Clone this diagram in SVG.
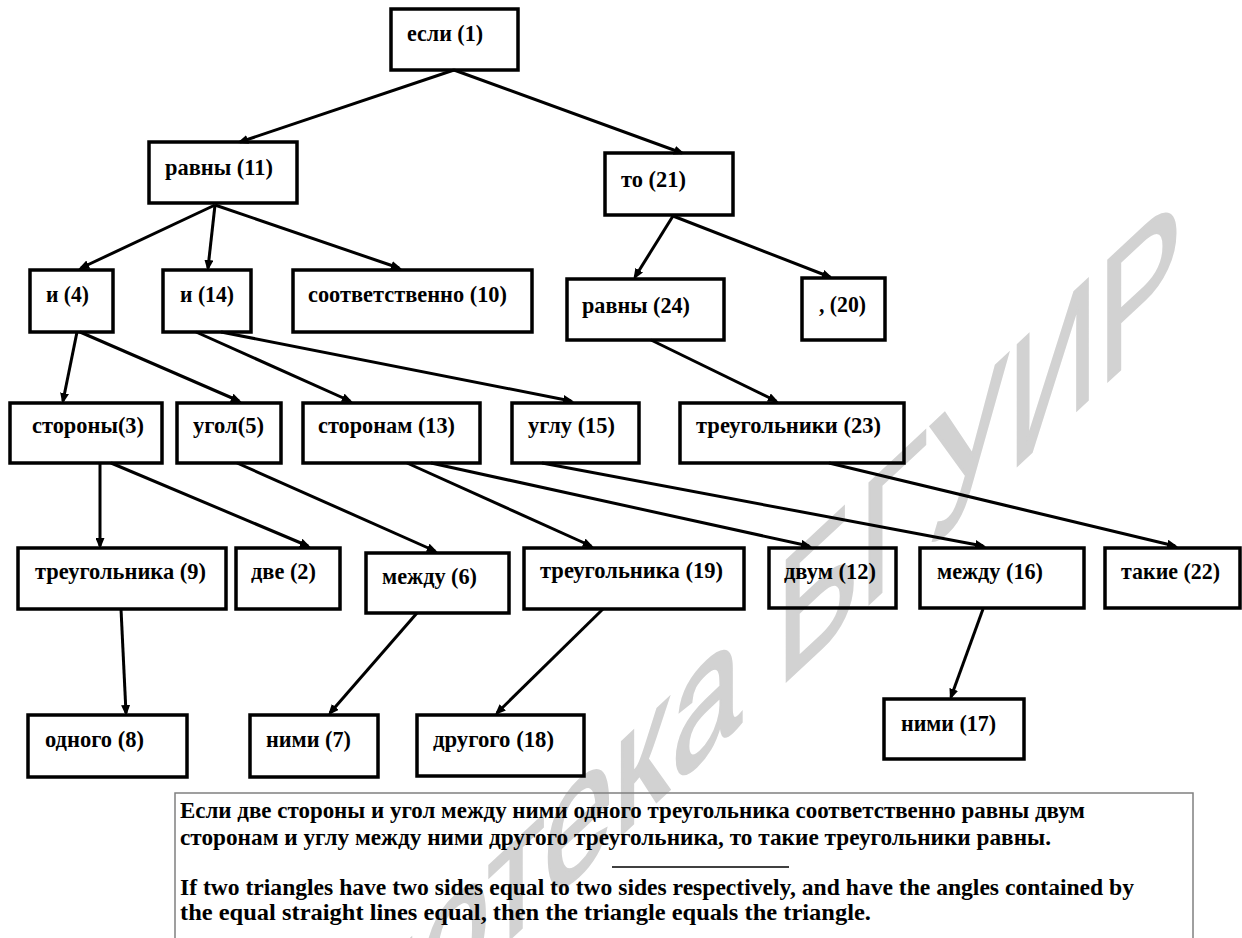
<svg xmlns="http://www.w3.org/2000/svg" width="1242" height="938" viewBox="0 0 1242 938">
<style>
.box{fill:none;stroke:#000;stroke-width:3.5}
.lbl{font-family:"Liberation Serif","Times New Roman",serif;font-weight:bold;font-size:24px;fill:#000}
.txt{font-family:"Liberation Serif","Times New Roman",serif;font-weight:bold;font-size:23px;fill:#000}
.edge{stroke:#000;stroke-width:3;fill:none;marker-end:url(#ah)}
.wm{font-family:"Liberation Sans",Arial,sans-serif;font-size:175px;fill:#d2d2d2;stroke:#d2d2d2;stroke-width:3}
</style>
<defs>
<marker id="ah" markerWidth="11" markerHeight="9" refX="8" refY="4.5" orient="auto" markerUnits="userSpaceOnUse">
<path d="M0,0 L11,4.5 L0,9 z" fill="#000"/>
</marker>
</defs>
<rect width="1242" height="938" fill="#fff"/>
<text class="wm" transform="translate(1182,312) skewY(-43) scale(0.72,1)" text-anchor="end">Библиотека БГУИР</text>

<g id="connectors">
<line class="edge" x1="454" y1="70" x2="240" y2="142"/>
<line class="edge" x1="454" y1="70" x2="682" y2="153"/>
<line class="edge" x1="215" y1="205" x2="81" y2="268"/>
<line class="edge" x1="215" y1="205" x2="208" y2="268"/>
<line class="edge" x1="215" y1="205" x2="399" y2="268"/>
<line class="edge" x1="673" y1="216" x2="635" y2="277"/>
<line class="edge" x1="673" y1="216" x2="830" y2="277"/>
<line class="edge" x1="77" y1="332" x2="63" y2="401"/>
<line class="edge" x1="80" y1="332" x2="239" y2="401"/>
<line class="edge" x1="196" y1="332" x2="350" y2="401"/>
<line class="edge" x1="221" y1="332" x2="571" y2="401"/>
<line class="edge" x1="651" y1="340" x2="776" y2="401"/>
<line class="edge" x1="100" y1="463" x2="100" y2="546"/>
<line class="edge" x1="111" y1="463" x2="308" y2="546"/>
<line class="edge" x1="237" y1="463" x2="435" y2="551"/>
<line class="edge" x1="407" y1="463" x2="591" y2="546"/>
<line class="edge" x1="431" y1="463" x2="809" y2="546"/>
<line class="edge" x1="542" y1="463" x2="983" y2="546"/>
<line class="edge" x1="829" y1="463" x2="1175" y2="546"/>
<line class="edge" x1="121" y1="609" x2="126" y2="713"/>
<line class="edge" x1="417" y1="613" x2="330" y2="713"/>
<line class="edge" x1="603" y1="609" x2="497" y2="713"/>
<line class="edge" x1="983" y1="609" x2="951" y2="697"/>
</g>

<g id="n1"><rect class="box" x="391" y="9" width="127" height="61"/><text class="lbl" x="407" y="41" textLength="76" lengthAdjust="spacingAndGlyphs">если (1)</text></g>
<g id="n11"><rect class="box" x="149" y="142" width="148" height="61"/><text class="lbl" x="165" y="175" textLength="108" lengthAdjust="spacingAndGlyphs">равны (11)</text></g>
<g id="n21"><rect class="box" x="605" y="153" width="128" height="62"/><text class="lbl" x="621" y="187" textLength="65" lengthAdjust="spacingAndGlyphs">то (21)</text></g>
<g id="n4"><rect class="box" x="30" y="270" width="83" height="62"/><text class="lbl" x="46" y="302" textLength="43" lengthAdjust="spacingAndGlyphs">и (4)</text></g>
<g id="n14"><rect class="box" x="163" y="270" width="88" height="62"/><text class="lbl" x="180" y="302" textLength="54" lengthAdjust="spacingAndGlyphs">и (14)</text></g>
<g id="n10"><rect class="box" x="293" y="270" width="239" height="62"/><text class="lbl" x="308" y="302" textLength="199" lengthAdjust="spacingAndGlyphs">соответственно (10)</text></g>
<g id="n24"><rect class="box" x="567" y="279" width="157" height="61"/><text class="lbl" x="582" y="313" textLength="108" lengthAdjust="spacingAndGlyphs">равны (24)</text></g>
<g id="n20"><rect class="box" x="802" y="278" width="83" height="62"/><text class="lbl" x="819" y="312" textLength="47" lengthAdjust="spacingAndGlyphs">, (20)</text></g>
<g id="n3"><rect class="box" x="10" y="403" width="152" height="60"/><text class="lbl" x="32" y="433" textLength="112" lengthAdjust="spacingAndGlyphs">стороны(3)</text></g>
<g id="n5"><rect class="box" x="177" y="403" width="104" height="60"/><text class="lbl" x="193" y="433" textLength="71" lengthAdjust="spacingAndGlyphs">угол(5)</text></g>
<g id="n13"><rect class="box" x="303" y="403" width="177" height="60"/><text class="lbl" x="318" y="433" textLength="137" lengthAdjust="spacingAndGlyphs">сторонам (13)</text></g>
<g id="n15"><rect class="box" x="512" y="403" width="127" height="60"/><text class="lbl" x="528" y="433" textLength="87" lengthAdjust="spacingAndGlyphs">углу (15)</text></g>
<g id="n23"><rect class="box" x="680" y="403" width="224" height="60"/><text class="lbl" x="696" y="433" textLength="185" lengthAdjust="spacingAndGlyphs">треугольники (23)</text></g>
<g id="n9"><rect class="box" x="18" y="548" width="208" height="61"/><text class="lbl" x="35" y="579" textLength="171" lengthAdjust="spacingAndGlyphs">треугольника (9)</text></g>
<g id="n2"><rect class="box" x="236" y="548" width="104" height="61"/><text class="lbl" x="251" y="579" textLength="65" lengthAdjust="spacingAndGlyphs">две (2)</text></g>
<g id="n6"><rect class="box" x="366" y="553" width="143" height="60"/><text class="lbl" x="382" y="584" textLength="95" lengthAdjust="spacingAndGlyphs">между (6)</text></g>
<g id="n19"><rect class="box" x="524" y="548" width="220" height="61"/><text class="lbl" x="540" y="578" textLength="183" lengthAdjust="spacingAndGlyphs">треугольника (19)</text></g>
<g id="n12"><rect class="box" x="769" y="548" width="127" height="60"/><text class="lbl" x="784" y="579" textLength="92" lengthAdjust="spacingAndGlyphs">двум (12)</text></g>
<g id="n16"><rect class="box" x="920" y="548" width="164" height="60"/><text class="lbl" x="937" y="579" textLength="106" lengthAdjust="spacingAndGlyphs">между (16)</text></g>
<g id="n22"><rect class="box" x="1105" y="548" width="135" height="60"/><text class="lbl" x="1121" y="579" textLength="99" lengthAdjust="spacingAndGlyphs">такие (22)</text></g>
<g id="n8"><rect class="box" x="28" y="715" width="159" height="62"/><text class="lbl" x="45" y="747" textLength="99" lengthAdjust="spacingAndGlyphs">одного (8)</text></g>
<g id="n7"><rect class="box" x="250" y="715" width="128" height="62"/><text class="lbl" x="266" y="747" textLength="85" lengthAdjust="spacingAndGlyphs">ними (7)</text></g>
<g id="n18"><rect class="box" x="417" y="715" width="167" height="61"/><text class="lbl" x="433" y="747" textLength="121" lengthAdjust="spacingAndGlyphs">другого (18)</text></g>
<g id="n17"><rect class="box" x="884" y="699" width="140" height="60"/><text class="lbl" x="901" y="731" textLength="95" lengthAdjust="spacingAndGlyphs">ними (17)</text></g>

<g id="caption">
<rect x="175" y="793" width="1018" height="160" fill="none" stroke="#808080" stroke-width="1.5"/>
<text class="txt" x="180" y="818" textLength="905" lengthAdjust="spacingAndGlyphs">Если две стороны и угол между ними одного треугольника соответственно равны двум</text>
<text class="txt" x="180" y="845" textLength="871" lengthAdjust="spacingAndGlyphs">сторонам и углу между ними другого треугольника, то такие треугольники равны.</text>
<line x1="612" y1="867" x2="789" y2="867" stroke="#000" stroke-width="1.5"/>
<text class="txt" x="180" y="895" textLength="954" lengthAdjust="spacingAndGlyphs">If two triangles have two sides equal to two sides respectively, and have the angles contained by</text>
<text class="txt" x="180" y="920" textLength="691" lengthAdjust="spacingAndGlyphs">the equal straight lines equal, then the triangle equals the triangle.</text>
</g>
</svg>
